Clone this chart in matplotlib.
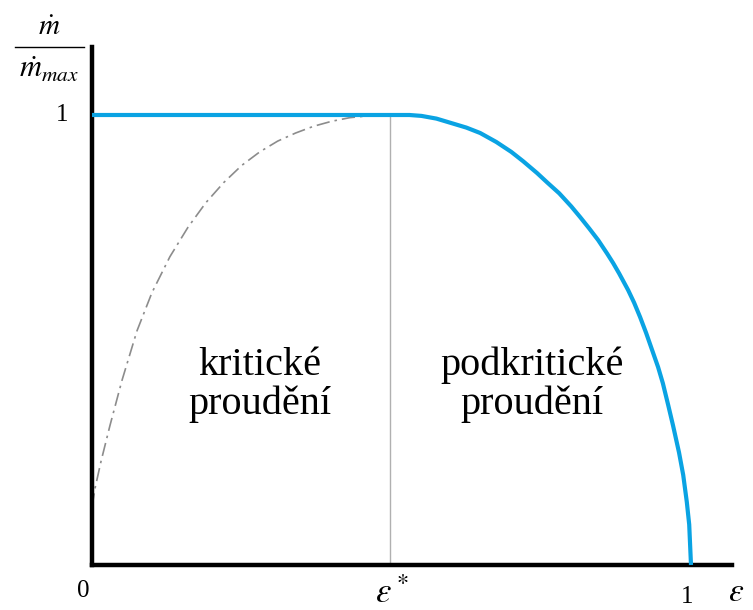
import matplotlib
matplotlib.use("Agg")
import matplotlib.pyplot as plt
from matplotlib.lines import Line2D

plt.rcParams["mathtext.fontset"] = "stix"

# Pressure ratio epsilon and normalised mass flow along the nozzle curve
eps_flow = [0.0, 0.50, 0.53, 0.55, 0.575, 0.60, 0.625, 0.648, 0.675, 0.70,
            0.72, 0.743, 0.76, 0.78, 0.80, 0.815, 0.83, 0.845, 0.86, 0.870,
            0.88, 0.895, 0.905, 0.915, 0.925, 0.935, 0.945, 0.953, 0.962,
            0.970, 0.980, 0.987, 0.993, 0.997, 1.0]
m_flow = [1.0, 1.0, 1.0, 0.998, 0.992, 0.982, 0.972, 0.96, 0.94, 0.918,
          0.897, 0.871, 0.85, 0.826, 0.797, 0.773, 0.748, 0.722, 0.692, 0.671,
          0.648, 0.611, 0.583, 0.551, 0.516, 0.478, 0.44, 0.404, 0.355,
          0.31, 0.25, 0.20, 0.14, 0.09, 0.0]

# Theoretical (non-physical) branch below the critical ratio
eps_theory = [0.0, 0.005, 0.015, 0.03, 0.05, 0.075, 0.10, 0.13, 0.16, 0.19,
              0.22, 0.25, 0.28, 0.31, 0.34, 0.37, 0.40, 0.43, 0.46, 0.49]
m_theory = [0.13, 0.17, 0.23, 0.31, 0.41, 0.52, 0.605, 0.685, 0.75, 0.805,
            0.85, 0.888, 0.918, 0.942, 0.96, 0.975, 0.986, 0.994, 0.998, 1.0]

eps_crit = 0.498
x_ticks = [0.0, eps_crit, 1.0]
x_ticklabels = ["0", r"$\varepsilon^*$", "1"]
region_labels = ["kritické\nproudění", "podkritické\nproudění"]

W, H = 753, 610
fig = plt.figure(figsize=(W / 100, H / 100), dpi=100)
x0, x1 = 92, 732
y0, y1 = 565, 47
ax = fig.add_axes([x0 / W, (H - y0) / H, (x1 - x0) / W, (y0 - y1) / H])
px_per_x = 599
px_per_y = 450
ax.set_xlim(0, (x1 - x0) / px_per_x)
ax.set_ylim(0, (y0 - y1) / px_per_y)

for s in ["top", "right"]:
    ax.spines[s].set_visible(False)
for s in ["left", "bottom"]:
    ax.spines[s].set_linewidth(3.2)
    ax.spines[s].set_color("black")
ax.set_xticks([])
ax.set_yticks([])

ax.plot([eps_crit, eps_crit], [0, 1], color="#b0b0b0", lw=1.0, zorder=1)
ax.plot(eps_theory, m_theory, color="#8c8c8c", lw=1.2,
        linestyle=(0, (8, 3, 1.5, 3)), zorder=2)
ax.plot(eps_flow, m_flow, color="#0aa3e3", lw=3.0, solid_capstyle="butt",
        solid_joinstyle="round", clip_on=False, zorder=3)

serif = "Liberation Serif"
ax.text(0.28, 0.40, region_labels[0], ha="center", va="center",
        family=serif, fontsize=29, linespacing=1.05)
ax.text(0.735, 0.40, region_labels[1], ha="center", va="center",
        family=serif, fontsize=29, linespacing=1.05)

# Axis value labels
ax.text(-0.015, -0.058, x_ticklabels[0], ha="center", va="center",
        family=serif, fontsize=18)
ax.text(x_ticks[1] + 0.003, -0.062, x_ticklabels[1], ha="center",
        va="center", fontsize=25)
ax.text(0.993, -0.072, x_ticklabels[2], ha="center", va="center",
        family=serif, fontsize=18)
ax.text(-0.05, 1.0, "1", ha="center", va="center", family=serif, fontsize=18)
ax.text(1.075, -0.058, r"$\varepsilon$", ha="center", va="center",
        fontsize=24, clip_on=False)

# Ordinate label as a stacked fraction
fig.text(49 / W, 1 - 27 / H, r"$\dot{m}$", ha="center", va="center",
         fontsize=21)
fig.text(49 / W, 1 - 69 / H, r"$\dot{m}_{max}$", ha="center", va="center",
         fontsize=22)
fig.add_artist(Line2D([15 / W, 84 / W], [1 - 47 / H, 1 - 47 / H],
                      transform=fig.transFigure, color="black", lw=1.0))

fig.savefig("out.png", dpi=100)
